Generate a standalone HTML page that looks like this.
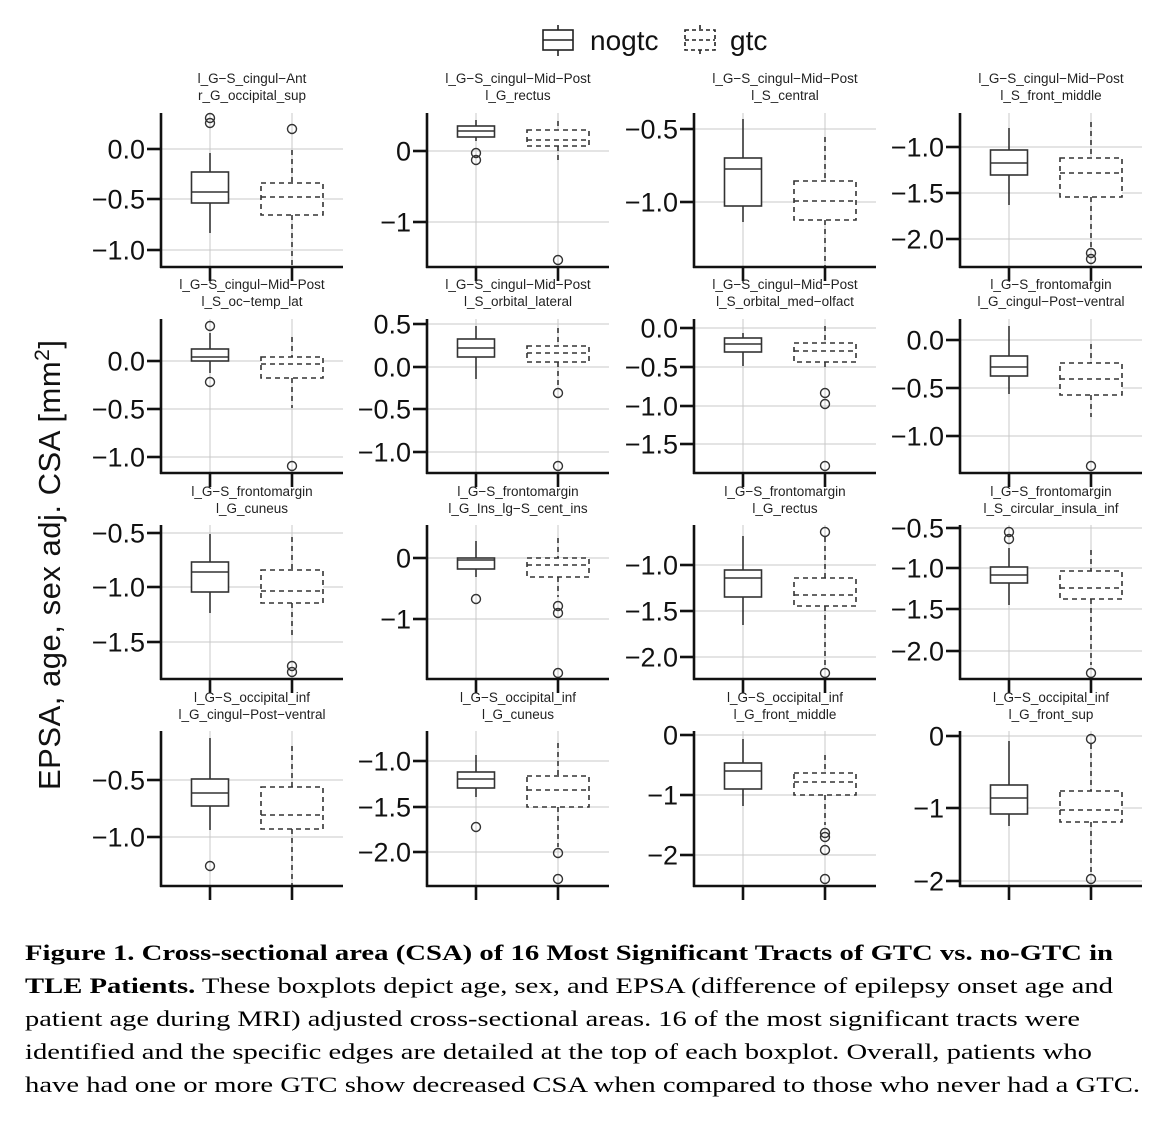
<!DOCTYPE html>
<html><head><meta charset="utf-8"><style>
html,body{margin:0;padding:0;background:#fff;}
svg{display:block;}
.t{font-family:"Liberation Sans",Arial,sans-serif;font-size:13.5px;fill:#222;text-anchor:middle;}
.y{font-family:"Liberation Sans",Arial,sans-serif;font-size:27px;fill:#111;text-anchor:end;}
.c{font-family:"Liberation Serif","Times New Roman",serif;font-size:22.5px;fill:#000;}
</style></head><body>
<svg id="s" width="1170" height="1124" viewBox="0 0 1170 1124" xmlns="http://www.w3.org/2000/svg">
<g id="geo"></g>
<!-- legend -->
<g stroke="#222" stroke-width="1.6" fill="none">
<line x1="558" y1="25" x2="558" y2="30"/><rect x="543" y="30" width="30" height="20"/><line x1="543" y1="40" x2="573" y2="40"/><line x1="558" y1="50" x2="558" y2="56"/>
<g stroke-dasharray="4,3"><line x1="700" y1="25" x2="700" y2="30"/><rect x="685" y="30" width="30" height="20"/><line x1="685" y1="40" x2="715" y2="40"/><line x1="700" y1="50" x2="700" y2="56"/></g>
</g>
<text x="590" y="50" style="font-family:'Liberation Sans',Arial,sans-serif;font-size:28px;fill:#111">nogtc</text>
<text x="730" y="50" style="font-family:'Liberation Sans',Arial,sans-serif;font-size:28px;fill:#111">gtc</text>
<!-- y title -->
<text transform="translate(60,790) rotate(-90)" textLength="450" style="font-family:'Liberation Sans',Arial,sans-serif;font-size:31px;fill:#111">EPSA, age, sex adj. CSA [mm<tspan dy="-11" font-size="21">2</tspan><tspan dy="11">]</tspan></text>
<!-- titles row1 -->
<text class="t" x="252" y="83">l_G−S_cingul−Ant</text><text class="t" x="252" y="100">r_G_occipital_sup</text>
<text class="t" x="518" y="83">l_G−S_cingul−Mid−Post</text><text class="t" x="518" y="100">l_G_rectus</text>
<text class="t" x="785" y="83">l_G−S_cingul−Mid−Post</text><text class="t" x="785" y="100">l_S_central</text>
<text class="t" x="1051" y="83">l_G−S_cingul−Mid−Post</text><text class="t" x="1051" y="100">l_S_front_middle</text>
<!-- row2 -->
<text class="t" x="252" y="289">l_G−S_cingul−Mid−Post</text><text class="t" x="252" y="306">l_S_oc−temp_lat</text>
<text class="t" x="518" y="289">l_G−S_cingul−Mid−Post</text><text class="t" x="518" y="306">l_S_orbital_lateral</text>
<text class="t" x="785" y="289">l_G−S_cingul−Mid−Post</text><text class="t" x="785" y="306">l_S_orbital_med−olfact</text>
<text class="t" x="1051" y="289">l_G−S_frontomargin</text><text class="t" x="1051" y="306">l_G_cingul−Post−ventral</text>
<!-- row3 -->
<text class="t" x="252" y="496">l_G−S_frontomargin</text><text class="t" x="252" y="513">l_G_cuneus</text>
<text class="t" x="518" y="496">l_G−S_frontomargin</text><text class="t" x="518" y="513">l_G_Ins_lg−S_cent_ins</text>
<text class="t" x="785" y="496">l_G−S_frontomargin</text><text class="t" x="785" y="513">l_G_rectus</text>
<text class="t" x="1051" y="496">l_G−S_frontomargin</text><text class="t" x="1051" y="513">l_S_circular_insula_inf</text>
<!-- row4 -->
<text class="t" x="252" y="702">l_G−S_occipital_inf</text><text class="t" x="252" y="719">l_G_cingul−Post−ventral</text>
<text class="t" x="518" y="702">l_G−S_occipital_inf</text><text class="t" x="518" y="719">l_G_cuneus</text>
<text class="t" x="785" y="702">l_G−S_occipital_inf</text><text class="t" x="785" y="719">l_G_front_middle</text>
<text class="t" x="1051" y="702">l_G−S_occipital_inf</text><text class="t" x="1051" y="719">l_G_front_sup</text>
<!-- tick labels -->
<text class="y" x="145" y="158.5">0.0</text><text class="y" x="145" y="208.5">−0.5</text><text class="y" x="145" y="259.5">−1.0</text>
<text class="y" x="411" y="160.5">0</text><text class="y" x="411" y="231.5">−1</text>
<text class="y" x="678" y="138.5">−0.5</text><text class="y" x="678" y="211.5">−1.0</text>
<text class="y" x="944" y="156.5">−1.0</text><text class="y" x="944" y="202.5">−1.5</text><text class="y" x="944" y="248.5">−2.0</text>

<text class="y" x="145" y="370.5">0.0</text><text class="y" x="145" y="418.5">−0.5</text><text class="y" x="145" y="466.5">−1.0</text>
<text class="y" x="411" y="333.5">0.5</text><text class="y" x="411" y="376.5">0.0</text><text class="y" x="411" y="418.5">−0.5</text><text class="y" x="411" y="461.5">−1.0</text>
<text class="y" x="678" y="337.5">0.0</text><text class="y" x="678" y="376.5">−0.5</text><text class="y" x="678" y="415.5">−1.0</text><text class="y" x="678" y="453.5">−1.5</text>
<text class="y" x="944" y="349.5">0.0</text><text class="y" x="944" y="397.5">−0.5</text><text class="y" x="944" y="445.5">−1.0</text>

<text class="y" x="145" y="542.5">−0.5</text><text class="y" x="145" y="596.5">−1.0</text><text class="y" x="145" y="651.5">−1.5</text>
<text class="y" x="411" y="567.5">0</text><text class="y" x="411" y="628.5">−1</text>
<text class="y" x="678" y="574.5">−1.0</text><text class="y" x="678" y="620.5">−1.5</text><text class="y" x="678" y="666.5">−2.0</text>
<text class="y" x="944" y="537.5">−0.5</text><text class="y" x="944" y="577.5">−1.0</text><text class="y" x="944" y="618.5">−1.5</text><text class="y" x="944" y="660.5">−2.0</text>

<text class="y" x="145" y="789.5">−0.5</text><text class="y" x="145" y="846.5">−1.0</text>
<text class="y" x="411" y="770.5">−1.0</text><text class="y" x="411" y="816.5">−1.5</text><text class="y" x="411" y="861.5">−2.0</text>
<text class="y" x="678" y="744.5">0</text><text class="y" x="678" y="804.5">−1</text><text class="y" x="678" y="864.5">−2</text>
<text class="y" x="944" y="745.5">0</text><text class="y" x="944" y="817.5">−1</text><text class="y" x="944" y="890.5">−2</text>
<!-- caption -->
<text class="c" x="25" y="960" font-weight="bold" textLength="1088" lengthAdjust="spacingAndGlyphs">Figure 1. Cross-sectional area (CSA) of 16 Most Significant Tracts of GTC vs. no-GTC in</text>
<text class="c" x="25" y="993" textLength="1088" lengthAdjust="spacingAndGlyphs"><tspan font-weight="bold">TLE Patients.</tspan> These boxplots depict age, sex, and EPSA (difference of epilepsy onset age and</text>
<text class="c" x="25" y="1026" textLength="1055" lengthAdjust="spacingAndGlyphs">patient age during MRI) adjusted cross-sectional areas. 16 of the most significant tracts were</text>
<text class="c" x="25" y="1059" textLength="1067" lengthAdjust="spacingAndGlyphs">identified and the specific edges are detailed at the top of each boxplot. Overall, patients who</text>
<text class="c" x="25" y="1092" textLength="1115" lengthAdjust="spacingAndGlyphs">have had one or more GTC show decreased CSA when compared to those who never had a GTC.</text>
</svg>
<script>
(function(){
var A=[161,427,694,960],T=[113,319,525,731],B=[267,473,679,886],W=182;
var P=[
[0,0,[149,199,250],[153,172,192,203,233,118,123],[150,183,197,215,267,129]],
[1,0,[151,222],[120,126,131,137,141,153,160],[121,130,140,146,163,260]],
[2,0,[129,202],[119,158,169,206,222],[137,181,201,220,267]],
[3,0,[147,193,239],[128,150,163,175,205],[122,158,173,197,250,253,259]],
[0,1,[361,409,457],[333,349,357,361,373,326,382],[337,357,364,378,408,466]],
[1,1,[324,367,409,452],[326,339,348,357,379],[328,346,353,362,388,393,466]],
[2,1,[328,367,406,444],[333,338,344,352,366],[326,343,351,362,370,393,404,466]],
[3,1,[340,388,436],[326,356,367,376,394],[344,363,379,395,417,466]],
[0,2,[533,587,642],[534,562,572,592,613],[537,570,591,603,638,666,672]],
[1,2,[558,619],[541,558,560,569,577,599],[538,558,565,577,597,606,613,673]],
[2,2,[565,611,657],[536,570,578,597,625],[537,578,595,606,665,532,673]],
[3,2,[528,568,609,651],[548,567,575,583,605,532,539],[550,571,588,599,665,673]],
[0,3,[780,837],[738,779,793,806,830,866],[746,787,815,829,886]],
[1,3,[761,807,852],[755,772,779,788,797,827],[743,776,790,807,847,853,879]],
[2,3,[735,795,855],[739,763,771,789,806],[755,773,782,795,825,833,837,850,879]],
[3,3,[736,808,881],[741,785,798,814,826],[744,791,810,822,875,739,879]]
];
var h='';
P.forEach(function(p){
 var a=A[p[0]],t=T[p[1]],b=B[p[1]],c1=a+49,c2=a+131;
 h+='<g stroke="#c8c8c8" stroke-width="1">';
 p[2].forEach(function(y){h+='<line x1="'+a+'" y1="'+y+'" x2="'+(a+W)+'" y2="'+y+'"/>';});
 h+='<line x1="'+c1+'" y1="'+t+'" x2="'+c1+'" y2="'+b+'"/><line x1="'+c2+'" y1="'+t+'" x2="'+c2+'" y2="'+b+'"/></g>';
 function box(c,d,w,dash){
  var s='<g stroke="#333" stroke-width="1.6" fill="#fff"'+(dash?' stroke-dasharray="5,4"':'')+'>';
  s+='<line x1="'+c+'" y1="'+d[0]+'" x2="'+c+'" y2="'+d[1]+'"/>';
  s+='<line x1="'+c+'" y1="'+d[3]+'" x2="'+c+'" y2="'+d[4]+'"/>';
  s+='<rect x="'+(c-w/2)+'" y="'+d[1]+'" width="'+w+'" height="'+(d[3]-d[1])+'"/>';
  s+='<line x1="'+(c-w/2)+'" y1="'+d[2]+'" x2="'+(c+w/2)+'" y2="'+d[2]+'"/></g>';
  for(var i=5;i<d.length;i++)s+='<circle cx="'+c+'" cy="'+d[i]+'" r="4.5" fill="none" stroke="#333" stroke-width="1.4"/>';
  return s;
 }
 h+=box(c1,p[3],37,false)+box(c2,p[4],62,true);
 h+='<g stroke="#111" stroke-width="2.6" fill="none">';
 h+='<line x1="'+a+'" y1="'+t+'" x2="'+a+'" y2="'+(b+1)+'"/><line x1="'+(a-1)+'" y1="'+b+'" x2="'+(a+W)+'" y2="'+b+'"/>';
 p[2].forEach(function(y){h+='<line x1="'+(a-14)+'" y1="'+y+'" x2="'+a+'" y2="'+y+'"/>';});
 h+='<line x1="'+c1+'" y1="'+b+'" x2="'+c1+'" y2="'+(b+14)+'"/><line x1="'+c2+'" y1="'+b+'" x2="'+c2+'" y2="'+(b+14)+'"/></g>';
});
document.getElementById('geo').innerHTML=h;
})();
</script>
</body></html>
